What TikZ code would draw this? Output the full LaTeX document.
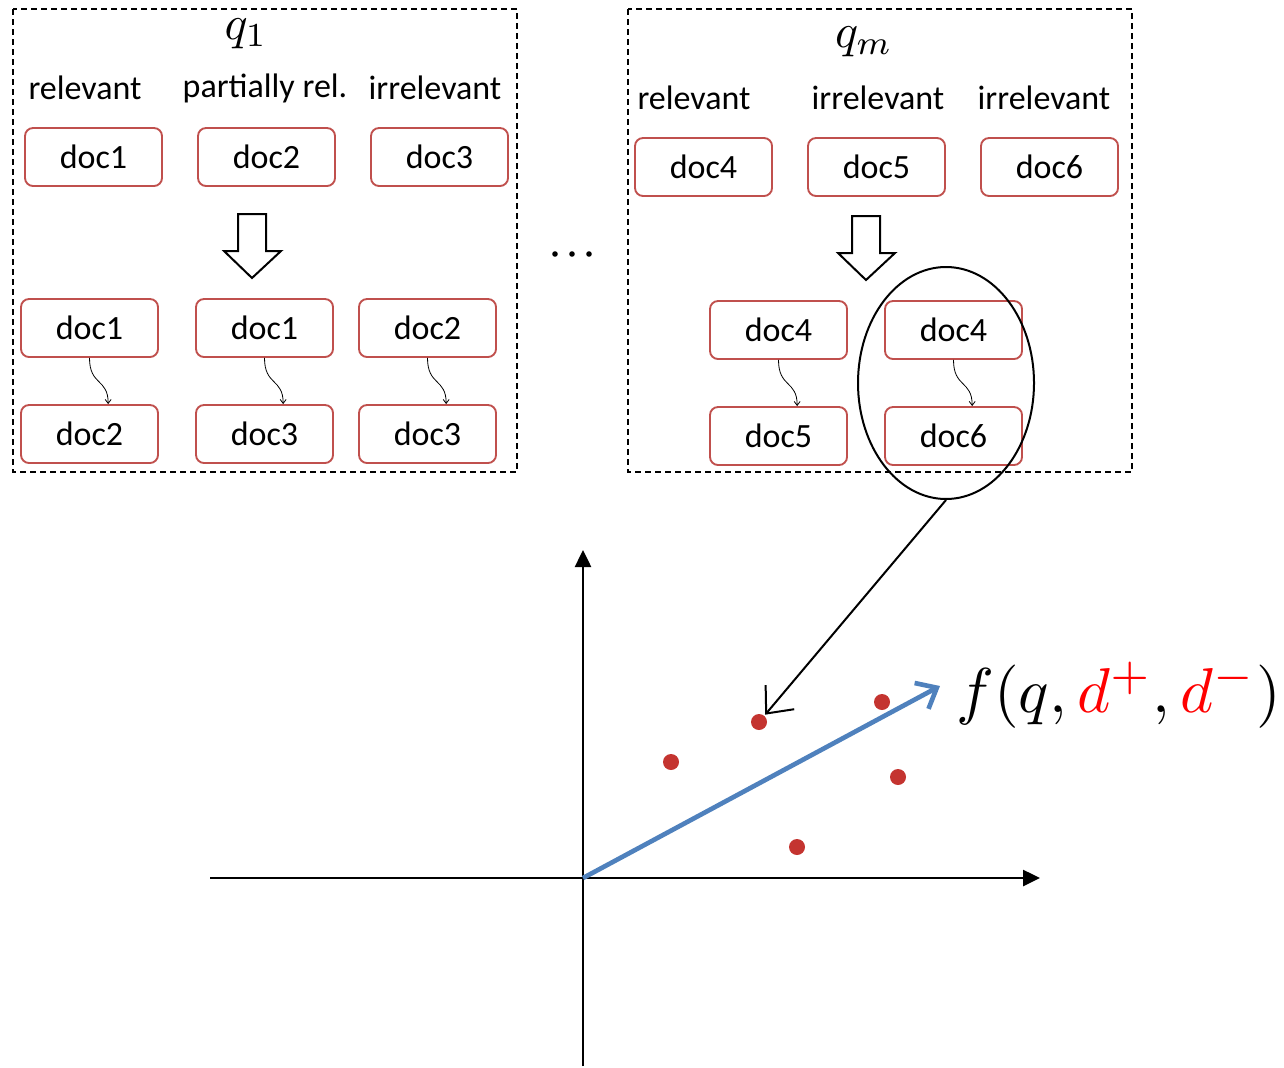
\documentclass[tikz,border=0pt]{standalone}
\usepackage{graphicx}
\usepackage{fontspec}
\setmainfont{Carlito}
\usetikzlibrary{arrows.meta,shapes.geometric}
\definecolor{boxred}{RGB}{192,80,77}
\definecolor{dotred}{RGB}{196,52,48}
\definecolor{vecblue}{RGB}{79,129,189}
\tikzset{
  docbox/.style={draw=boxred,line width=1.4pt,rounded corners=6pt,fill=white,
    minimum width=102.75pt,minimum height=43.5pt,inner sep=0pt,
    font=\fontsize{25.5}{30}\selectfont},
  lbl/.style={inner sep=0pt,font=\fontsize{25.5}{30}\selectfont},
  qlbl/.style={inner sep=0pt},
  dashbox/.style={draw,line width=1.1pt,dash pattern=on 4.5pt off 3pt},
  curvy/.style={line width=0.6pt,-{Straight Barb[length=3pt,width=4.5pt]}},
  hollow/.style={draw,line width=1.5pt,fill=white,line join=miter},
  axis/.style={line width=1.9pt,-{Triangle[length=12.75pt,width=12pt]}},
  pt/.style={circle,fill=dotred,minimum size=12pt,inner sep=0pt},
}
\begin{document}
\begin{tikzpicture}[x=0.75pt,y=-0.75pt]
\useasboundingbox (0,0) rectangle (1284,1067);

% dashed frames
\draw[dashbox] (13,9) rectangle (517,472);
\draw[dashbox] (628,9) rectangle (1132,472);

% q1 block
\node[qlbl] (q1) at (246,34) {\scalebox{3.6}{$q_1$}};
\node[lbl] (l1) at (85,88) {relevant};
\node[lbl] (l2) at (265,88) {partially rel.};
\node[lbl] (l3) at (435,88) {irrelevant};
\node[docbox] (a1) at (93.5,157) {doc1};
\node[docbox] (a2) at (266.5,157) {doc2};
\node[docbox] (a3) at (439.5,157) {doc3};
\draw[hollow] (238,214) -- (266,214) -- (266,251) -- (281,251) -- (252,278) -- (224,251) -- (238,251) -- cycle;
\node[docbox] (b1) at (89.5,328) {doc1};
\node[docbox] (b2) at (264.5,328) {doc1};
\node[docbox] (b3) at (427.5,328) {doc2};
\node[docbox] (c1) at (89.5,434) {doc2};
\node[docbox] (c2) at (264.5,434) {doc3};
\node[docbox] (c3) at (427.5,434) {doc3};
\draw[curvy] (b1.south) .. controls +(0,28) and +(0,-26) .. ([xshift=14pt]c1.north);
\draw[curvy] (b2.south) .. controls +(0,28) and +(0,-26) .. ([xshift=14pt]c2.north);
\draw[curvy] (b3.south) .. controls +(0,28) and +(0,-26) .. ([xshift=14pt]c3.north);

% dots between
\fill (555,254) circle (2.8);
\fill (572,254) circle (2.8);
\fill (589,254) circle (2.8);

% qm block
\node[qlbl] (qm) at (864,42) {\scalebox{3.6}{$q_m$}};
\node[lbl] (r1) at (694,98) {relevant};
\node[lbl] (r2) at (878,98) {irrelevant};
\node[lbl] (r3) at (1044,98) {irrelevant};
\node[docbox] (d1) at (703.5,167) {doc4};
\node[docbox] (d2) at (876.5,167) {doc5};
\node[docbox] (d3) at (1049.5,167) {doc6};
\draw[hollow] (852,216) -- (880,216) -- (880,253) -- (895,253) -- (866,280) -- (838,253) -- (852,253) -- cycle;
\node[docbox] (e1) at (778.5,330) {doc4};
\node[docbox] (e2) at (953.5,330) {doc4};
\node[docbox] (f1) at (778.5,436) {doc5};
\node[docbox] (f2) at (953.5,436) {doc6};
\draw[curvy] (e1.south) .. controls +(0,28) and +(0,-26) .. ([xshift=14pt]f1.north);
\draw[curvy] (e2.south) .. controls +(0,28) and +(0,-26) .. ([xshift=14pt]f2.north);

% ellipse
\node[draw,ellipse,line width=1.5pt,minimum width=132pt,minimum height=174pt] (ell) at (946,383) {};

% axes
\coordinate (o) at (583,878);
\coordinate (ybot) at (583,1066);
\coordinate (ytop) at (583,550);
\coordinate (xl) at (210,878);
\coordinate (xr) at (1040,878);
\draw[axis] (ybot) -- (ytop);
\draw[axis] (xl) -- (xr);

% points
\node[pt] (p1) at (759,722) {};
\node[pt] (p2) at (882,702) {};
\node[pt] (p3) at (671,762) {};
\node[pt] (p4) at (898,777) {};
\node[pt] (p5) at (797,847) {};

% vector
\coordinate (vend) at (940,686);
\draw[vecblue,line width=3.5pt,-{Straight Barb[length=13pt,width=22pt,line width=3.5pt]}] (o) -- (vend);

% label
\node[anchor=west,inner sep=0pt] (flab) at (956,695) {\scalebox{4.75}{$f(q,{\color{red}d^{+}},{\color{red}d^{-}})$}};

% pointer from ellipse
\draw[line width=1.5pt,-{Straight Barb[length=16pt,width=28pt,line width=1.5pt]},shorten >=1pt] (ell.south) -- (p1);
\end{tikzpicture}
\end{document}
